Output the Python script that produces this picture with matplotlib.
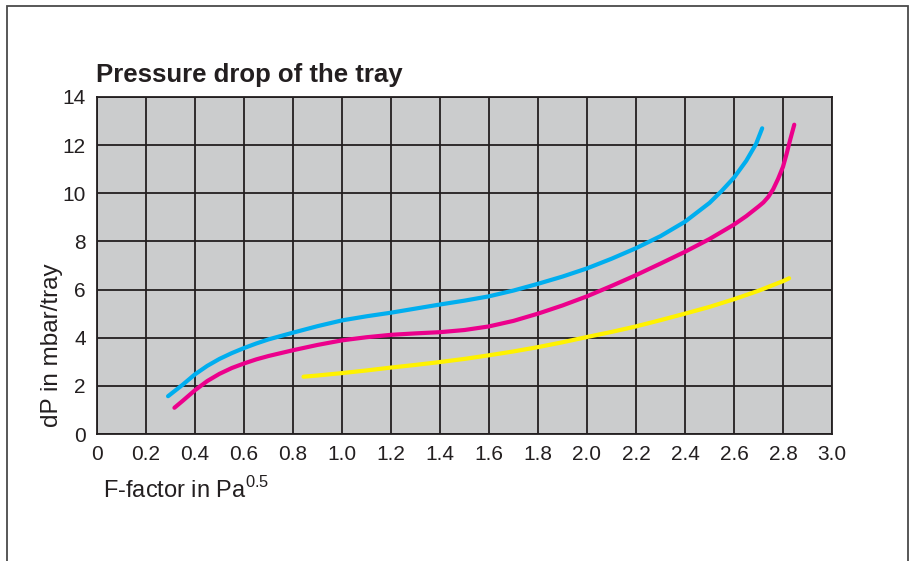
import matplotlib
matplotlib.use("Agg")
import matplotlib.pyplot as plt
from matplotlib.patches import Rectangle

plt.rcParams["font.family"] = ["Liberation Sans", "DejaVu Sans"]
plt.rcParams["mathtext.fontset"] = "custom"
plt.rcParams["mathtext.rm"] = "Liberation Sans"

# F-factor (Pa^0.5) vs. pressure drop (mbar/tray), read per curve
blue_f = [0.29, 0.35, 0.40, 0.45, 0.50, 0.55, 0.60, 0.65, 0.70, 0.80, 0.90, 1.00,
          1.10, 1.20, 1.30, 1.40, 1.50, 1.60, 1.70, 1.80, 1.90, 2.00, 2.10, 2.20,
          2.30, 2.40, 2.50, 2.55, 2.60, 2.65, 2.69, 2.715]
blue_dp = [1.57, 2.05, 2.48, 2.83, 3.12, 3.36, 3.57, 3.76, 3.93, 4.21, 4.48, 4.72,
           4.89, 5.04, 5.21, 5.38, 5.54, 5.72, 5.96, 6.24, 6.54, 6.88, 7.28, 7.72,
           8.22, 8.82, 9.60, 10.1, 10.65, 11.35, 12.05, 12.7]

magenta_f = [0.316, 0.35, 0.40, 0.45, 0.50, 0.55, 0.60, 0.65, 0.70, 0.80, 0.90, 1.00,
             1.10, 1.20, 1.30, 1.40, 1.50, 1.60, 1.70, 1.80, 1.90, 2.00, 2.10, 2.20,
             2.30, 2.40, 2.50, 2.60, 2.65, 2.70, 2.72, 2.74, 2.76, 2.78, 2.80, 2.815,
             2.83, 2.846]
magenta_dp = [1.09, 1.38, 1.82, 2.20, 2.50, 2.74, 2.93, 3.10, 3.24, 3.48, 3.70, 3.89,
              4.02, 4.12, 4.18, 4.23, 4.32, 4.47, 4.70, 5.00, 5.34, 5.72, 6.15, 6.60,
              7.08, 7.57, 8.10, 8.70, 9.05, 9.45, 9.62, 9.85, 10.17, 10.6, 11.1, 11.65,
              12.25, 12.85]

yellow_f = [0.843, 0.90, 1.00, 1.10, 1.20, 1.30, 1.40, 1.50, 1.60, 1.70, 1.80, 1.90,
            2.00, 2.10, 2.20, 2.30, 2.40, 2.50, 2.60, 2.70, 2.80, 2.825]
yellow_dp = [2.38, 2.43, 2.53, 2.64, 2.76, 2.87, 2.99, 3.12, 3.27, 3.43, 3.61, 3.81,
             4.03, 4.24, 4.47, 4.73, 5.00, 5.28, 5.60, 5.95, 6.35, 6.47]

x_ticks = [0, 0.2, 0.4, 0.6, 0.8, 1.0, 1.2, 1.4, 1.6, 1.8, 2.0, 2.2, 2.4, 2.6, 2.8, 3.0]
x_labels = ["0", "0.2", "0.4", "0.6", "0.8", "1.0", "1.2", "1.4", "1.6", "1.8",
            "2.0", "2.2", "2.4", "2.6", "2.8", "3.0"]
y_ticks = [0, 2, 4, 6, 8, 10, 12, 14]

W, H = 914, 561
fig = plt.figure(figsize=(W / 100, H / 100), dpi=100)
ax = fig.add_axes([97 / W, 1 - 434 / H, 735 / W, 337 / H])
ax.set_facecolor("#cbcccd")

for f, dp, c in [(blue_f, blue_dp, "#00aeef"),
                 (magenta_f, magenta_dp, "#ec008c"),
                 (yellow_f, yellow_dp, "#fff200")]:
    ax.plot(f, dp, color=c, lw=3.0, solid_capstyle="round", zorder=3)

ax.set_xlim(0, 3.0)
ax.set_ylim(0, 14)
ax.set_xticks(x_ticks)
ax.set_xticklabels(x_labels)
ax.set_yticks(y_ticks)
ax.set_xticks([2.0], minor=True)
ax.grid(True, color="#231f20", lw=1.3)
ax.set_axisbelow(True)
for s in ax.spines.values():
    s.set_color("#231f20")
    s.set_linewidth(1.3)
ax.tick_params(which="major", length=0, labelsize=15, colors="#231f20", pad=8)
ax.tick_params(axis="x", which="minor", length=7, width=1.0, color="#231f20")

fig.text(96 / W, 1 - 82 / H, "Pressure drop of the tray", fontsize=18.5,
         fontweight="bold", color="#231f20", ha="left", va="baseline")
fig.text(52 / W, 1 - 345 / H, "dP in mbar/tray", fontsize=17.5, rotation=90,
         color="#231f20", ha="center", va="center")
fig.text(103 / W, 1 - 498 / H, r"F-factor in Pa$^{\mathregular{0.5}}$", fontsize=17,
         color="#231f20", ha="left", va="baseline")

# outer frame, open at the bottom edge
fig.patches.append(Rectangle((7.5 / W, -0.05), 900.5 / W, 1.05 - 6 / H,
                             transform=fig.transFigure, fill=False,
                             edgecolor="#4a4a4a", lw=1.3))

fig.savefig("out.png", dpi=100)
